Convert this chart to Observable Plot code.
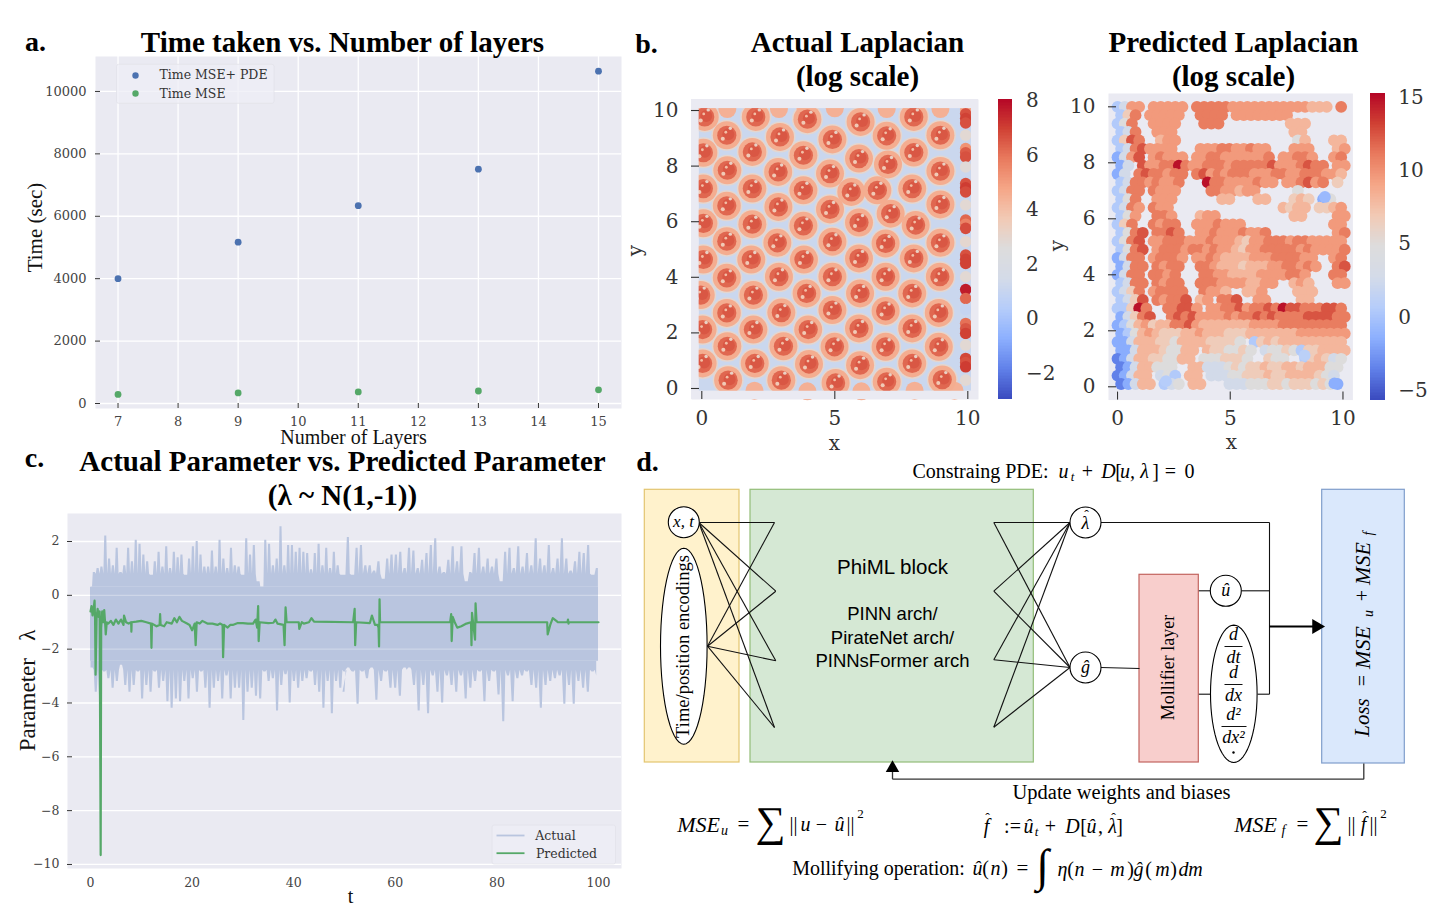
<!DOCTYPE html>
<html><head><meta charset="utf-8">
<script src="https://cdn.jsdelivr.net/npm/d3@7"></script>
<script src="https://cdn.jsdelivr.net/npm/@observablehq/plot@0.6"></script>
<style>html,body{margin:0;padding:0;background:#fff;width:1440px;height:914px;overflow:hidden}
#page{position:relative;width:1440px;height:914px}
#page>div{position:absolute}#page svg{max-width:none;display:block}</style>
</head><body><div id="page"></div>
<script>
// ---------- panel a ----------
const layers=[7,9,11,13,15];
const timePDE=[4000,5170,6340,7510,10650];
const timeMSE=[290,340,370,400,440];
// ---------- panel b: actual Laplacian, ring centres ----------
const ringX=[.11,2.03,3.97,5.97,7.97, .94,2.94,4.91,6.95,8.97, .06,1.9,3.82,5.91,7.97, .96,2.87,4.82,7,8.97,
 .06,1.9,3.82,5.62,6.6,7.91, .94,2.88,4.82,7.1,8.97, .06,1.9,3.82,5.91,8.04, .94,2.84,4.91,6.91,8.97,
 .06,1.86,3.84,5.91,7.97, .94,2.9,4.91,6.91,8.95, -.04,1.94,3.94,5.95,7.91, .94,2.99,4.91,6.91,8.91,
 .03,1.94,4,5.91,7.91, .96,3.07,4.99,6.91,8.91, .03,1.99,4.03,5.95,7.91, .99,2.99,5.03,6.95,9.04];
const ringY=[9.77,9.77,9.69,9.59,9.77, 9.11,9.05,8.96,9.09,9.11, 8.48,8.51,8.39,8.27,8.49, 7.85,7.79,7.73,8.06,7.82,
 7.19,7.19,7.13,7.07,7.13,7.19, 6.57,6.53,6.44,6.29,6.62, 5.94,5.91,5.85,5.97,5.88, 5.3,5.24,5.28,5.22,5.24,
 4.64,4.64,4.64,4.68,4.68, 3.98,4.02,4.02,4.02,4.02, 3.36,3.36,3.42,3.42,3.42, 2.72,2.73,2.82,2.79,2.72,
 2.12,2.12,2.12,2.16,2.16, 1.52,1.52,1.5,1.5,1.5, .9,.9,.88,.84,.9, .3,.3,.2,.24,.32];
const edgeX=[.96,2.9,3.9,5,6.95,8.97,1.98,3.97,6,8,9.5];
const edgeY=[10.05,10.05,10.05,10.08,10.05,10.05,-.08,-.1,-.1,-.08,-.08];
const columnX=9.92;
const columnY=[10.02,9.88,9.71,9.55,9.11,8.63,8.48,8.33,7.97,7.37,7.22,7.07,6.6,6.06,5.91,5.76,5.28,4.8,4.65,4.5,4.02,3.56,3.24,2.84,2.34,2.15,1.98,1.56,1.08,.93,.78,.3];
const columnV=[4.6,6.6,6.9,6.6,2.8,5.2,6.4,6.6,2.7,6.6,7,6.7,2.8,6.2,5.6,6.7,2.9,6.6,6.9,6.9,2.8,7.6,6.2,.9,6,6.5,6.9,2.8,6.8,6.6,7,2.8];
// ---------- panel b: predicted Laplacian, colour levels read row by row from y=10 downward ----------
const predictedLevels={"0":-3.6,"1":-1.6,"2":.4,"3":2.6,"4":4.8,"5":6.6,"6":8,"7":9.5,"8":10.9,"9":12.4,"x":14.8};
const predictedRows=[
"2377.77777.8888877777777777666.8",
"258.77777..8888.77777777........",
"248..7777...888.........666.....",
"238..777................66......",
"2598..677................46...66",
"23897777...7778877877...777...67",
"1379.78777.77887777778.77887..78",
"13.97788x87788878888897778988.77",
"13.8988788.897878887778877888776",
"238878778...x887777877.778978.5.",
"2388.8777....8877677.....4......",
"248..777......66...66...565.14..",
"2387.877...............6566.5567",
"247..887...677..........66....77",
"258..8788..7778777............77",
"2489.8898..7787778778.........78",
"2489.778887778777657788878877777",
"2489.788878878776577888887877778",
"1388.78887.77876666777888877..78",
"1388.8788..88766656667788787..89",
"1388.8878...887766667777887...88",
"2388.8788..88877776677..676...77",
"2358.78888..8776..667....666....",
"2359.87889.67.889..77....66.....",
"225x8..88997.7788978898x99888998",
"13589..8989777787889898888999988",
"12467566889766666667777888888888",
"12467655566766655566666667777777",
"113666554666655554.2565666666666",
"11366654466.6554454.344542556666",
"01366554466.4445554..544..256534",
"01366444..663334545565566566644.",
"01366.342.66.333445556556666543.",
"01366.234.66...3334445545554541."
];
const predictedOutliers=[[9.2,6.78,-.8],[8.3,1.12,1],[9.62,.12,-1.5],[2.15,.2,.6]];
// ---------- panel c: actual parameter peaks and predicted curve ----------
const upperEarly=[.25,.85,1,1.05,2.2,1.35,1.1,1.75,.85,1.1,1.75,1.25,2.05,1.9,1.5,1.25,.75,1.25,1.6,1.05,1.8,1,1.6,1.4,1.5,.75,1.35,1.8,2,1.5,1.05,1.05,1.65,1.05,2.05,1.35,1,1.75,1.1,1.05,.75,2.1,1.5,1.85,.5,.25,2.05,1.9,1.1,1.35,2.55,1.1,1.85,1.85,1.6,1.75,1.6,1.55,.95,1.55,1.9,1.1,1.75,1,1.6,1.1,.75];
const upperLate=[.75,2.15,.75,1.75,1.85,1.1,1.1,.9,1.25,.6,1.35,1.5,1.5,1.6,1,1.75,1.65,1,1.3,1.55,1.85,2.1,1.05,.85,1.3,1.8,1.25,1.8,.5,.85,1.55,1.75,1.05,1.35,1.05,1.35,.5,1.6,1.75,1,1.8,1.05,1.55,1.1,2.1,1.35,1.1,1.85,1,1.35,2.1,1.35,.9,1.25,1.6,1.55,1.85,.75,1];
const lowerEarly=[-2.7,-3.6,-3.7,-2.85,-3.1,-3.45,-3.2,-2.6,-3.35,-3.6,-3.35,-2.85,-3.85,-3.35,-3.6,-2.85,-3.45,-3.2,-3.95,-4.2,-3.85,-3.95,-3.2,-3.85,-3.1,-3.6,-2.85,-3.45,-4.2,-3.45,-3.2,-3.85,-3,-3.85,-3.45,-3.45,-4.65,-3.6,-3.45,-3.75,-3.85,-2.85,-3.2,-3.1,-4.3,-3.35,-2.95,-4,-3.2,-3.45,-3.2,-3.1,-2.85,-3.35,-3.6,-4.2,-3.2,-4.4,-3.2,-3.45,-2.85];
const lowerLate=[-3.6,-2.7,-2.85,-4.05,-2.85,-3.1,-2.7,-3.9,-3.2,-2.85,-3.45,-3.45,-3.75,-2.7,-2.7,-3.35,-4.3,-3.35,-4.4,-3,-3.6,-4,-3,-3.35,-3.6,-3,-3.85,-3.45,-3.2,-2.85,-3.95,-3.2,-2.85,-3.7,-4.7,-3,-3.95,-3.1,-3,-2.85,-3.35,-3.45,-4.2,-3.35,-3.2,-3.1,-3,-4.05,-3.35,-4.05,-3.2,-3.45,-3.6,-2.85,-3];
const bandLow=-2.45, bandHigh=.3, shoulderHigh=.78, shoulderLow=-2.78;
const predictedT=[0,.2,.4,.6,.8,.9,1,1.2,1.4,1.6,1.8,2,2.1,2.3,2.5,2.7,2.9,3,3.2,3.5,4,4.5,5,5.5,6,6.5,6.6,7,7.5,8,8.05,8.1,9,10,11,11.9,12,12.1,13,13.6,13.7,13.8,14.5,15,16,16.5,17,17.5,18,19,19.5,20,20.5,20.7,20.9,21.5,22,23,24,25,25.5,26,26.1,26.3,27,27.5,28,29,30,31,32,32.5,32.8,33,33.1,33.3,35,36,36.4,36.8,38,38.2,38.4,38.6,40,41,41.1,41.6,42,43,43.5,44,51.7,52,52.1,52.3,55,55.4,56,56.5,56.7,56.8,56.9,57,70.8,71,71.1,71.3,71.7,72.2,73,74,74.9,75,75.1,75.3,75.7,75.8,76,89.9,90,90.5,91,91.7,92,93.9,94,94.1,94.2,100];
const predictedV=[-.6,-.4,-.75,-.5,-.2,-.9,-2.95,-.8,-.5,-.8,-.6,-9.65,-1.2,-.6,-1,-.55,-1.1,-1.45,-1,-1.05,-.95,-1.1,-.9,-1.05,-.9,-1.1,-.75,-1,-1.05,-1,-1.35,-1,-.98,-.95,-1,-1.05,-1.95,-1.05,-1.15,-1.1,-.7,-1.1,-1.15,-1,-1.05,-.85,-1,-.8,-.95,-1.05,-1.1,-1.3,-1.05,-1.85,-1,-1.05,-.95,-1.05,-1.05,-1.1,-1.05,-1.1,-2.3,-1.1,-1.2,-1.1,-1.1,-1.03,-1.03,-1.05,-1.05,-.9,-1.2,-.4,-1.7,-1,-1.03,-1.02,-.9,-1.05,-1.1,-1.85,-.45,-1,-1,-1,-1.25,-1,-1.05,-1,-.85,-.98,-1,-.5,-1.85,-1,-1.03,-.75,-1.1,-1.1,-1.2,-1.9,-.15,-1,-1,-.7,-1.7,-.8,-1,-1.2,-1.15,-1.05,-1,-1.85,-.65,-1,-1.65,-.3,-1,-1,-1.45,-1.1,-.85,-.95,-1,-1,-.9,-1.05,-1,-1];
// ---------- shared ----------
const coolwarm=["#3b4cc0","#6282ea","#8db0fe","#b6cdfa","#d4dbe8","#dddcdc","#f2c9b4","#f5a586","#e8795d","#cf3f33","#b40426"];
const BG="#eaeaf2", GRIDW=1.3, TICK="#333", SERIF="'DejaVu Serif'", TIMES="'Liberation Serif'", SANS="'Liberation Sans'";
const page=document.getElementById("page");
function place(svg,left,top,z){const d=document.createElement("div");d.style.left=left+"px";d.style.top=top+"px";d.style.zIndex=z||1;d.appendChild(svg);page.appendChild(d);}
function colorScale(dom){return {type:"linear",clamp:true,domain:coolwarm.map((c,i)=>dom[0]+i*(dom[1]-dom[0])/10),range:coolwarm,legend:false};}
function panel(f,xd,yd,marks,extra){
  const m=Object.assign({L:60,R:5,T:5,B:50},extra&&extra.m);
  const W=f.x2-f.x1,H=f.y2-f.y1;
  const svg=Plot.plot(Object.assign({width:W+m.L+m.R,height:H+m.T+m.B,marginLeft:m.L,marginRight:m.R,marginTop:m.T,marginBottom:m.B,
    style:{background:"transparent",overflow:"visible"},x:{domain:xd},y:{domain:yd},marks:marks(W,H)},extra&&extra.plot));
  place(svg,f.x1-m.L,f.y1-m.T);
}
// ---------- panel a ----------
const frameA={x1:95,x2:621,y1:56,y2:408};
const xTicksA=d3.range(7,16), yTicksA=[0,2000,4000,6000,8000,10000];
panel(frameA,[6.625,15.383],[-160,11120],(W,H)=>[
  Plot.frame({fill:BG,stroke:null}),
  Plot.gridX(xTicksA,{stroke:"#fff",strokeOpacity:1,strokeWidth:GRIDW}),
  Plot.gridY(yTicksA,{stroke:"#fff",strokeOpacity:1,strokeWidth:GRIDW}),
  Plot.ruleX(xTicksA,{x:d=>d,stroke:TICK,insetTop:H-5}),
  Plot.ruleY(yTicksA,{y:d=>d,stroke:TICK,insetRight:W-5}),
  Plot.axisX(xTicksA,{tickSize:0,tickPadding:8,label:null,fontSize:13,fontFamily:SERIF,fill:"#444",tickFormat:"d"}),
  Plot.axisY(yTicksA,{tickSize:0,tickPadding:9,label:null,fontSize:13,fontFamily:SERIF,fill:"#444",tickFormat:"d"}),
  Plot.dot(layers,{x:d=>d,y:(d,i)=>timePDE[i],r:3.4,fill:"#4c72b0"}),
  Plot.dot(layers,{x:d=>d,y:(d,i)=>timeMSE[i],r:3.4,fill:"#55a868"})
],{m:{L:60,R:5,T:5,B:40}});
// ---------- panel b actual ----------
const domA=[-2.95,8.05];
const frameB={x1:690.7,x2:977.7,y1:99.3,y2:399.3};
const rings=ringX.map((x,i)=>({x,y:ringY[i]}));
const edges=edgeX.map((x,i)=>({x,y:edgeY[i]}));
const column=columnY.map((y,i)=>({x:columnX,y,v:columnV[i]}));
const scatterBox={x1:-.1,x2:10.14,y1:-.1,y2:10.07}, xdB=[-.387,10.402], ydB=[-.396,10.396];
const maskB=[[xdB[0],scatterBox.x1,ydB[0],ydB[1]],[scatterBox.x2,xdB[1],ydB[0],ydB[1]],[xdB[0],xdB[1],ydB[0],scatterBox.y1],[xdB[0],xdB[1],scatterBox.y2,ydB[1]]];
const ticks5=[0,5,10], ticks2=[0,2,4,6,8,10];
function tickMarks(W,H,len){return [
  Plot.ruleX(ticks5,{x:d=>d,stroke:TICK,strokeWidth:1.1,insetTop:H-len}),
  Plot.ruleY(ticks2,{y:d=>d,stroke:TICK,strokeWidth:1.1,insetRight:W-len}),
  Plot.axisX(ticks5,{tickSize:0,tickPadding:11,label:null,fontSize:20,fontFamily:SERIF,fill:"#333"}),
  Plot.axisY(ticks2,{tickSize:0,tickPadding:13,label:null,fontSize:20,fontFamily:SERIF,fill:"#333"})];}
panel(frameB,xdB,ydB,(W,H)=>[
  Plot.frame({fill:BG,stroke:null}),
  Plot.rect([scatterBox],{x1:"x1",x2:"x2",y1:"y1",y2:"y2",fill:()=>1.1}),
  Plot.dot(rings,{x:"x",y:"y",r:15.5,fill:()=>2.9}),
  Plot.dot(edges,{x:"x",y:"y",r:9,fill:()=>4.4}),
  Plot.dot(rings,{x:"x",y:"y",r:14,fill:()=>4.5}),
  Plot.dot(rings,{x:"x",y:"y",r:9.6,fill:()=>6.2}),
  Plot.dot(rings,{x:"x",y:"y",r:6,dx:1.5,dy:-1,fill:()=>6.5}),
  Plot.dot(rings,{x:"x",y:"y",r:2,dx:-4,dy:3.5,fill:()=>3.6}),
  Plot.dot(rings,{x:"x",y:"y",r:1.7,dx:3.5,dy:-7,fill:()=>3.2}),
  Plot.dot(rings,{x:"x",y:"y",r:1.4,dx:-1,dy:-3,fill:()=>4}),
  Plot.dot(column,{x:"x",y:"y",r:5.8,fill:"v"}),
  Plot.rect(maskB,{x1:d=>d[0],x2:d=>d[1],y1:d=>d[2],y2:d=>d[3],fill:BG}),
  Plot.rect([[xdB[0]-1,xdB[0],ydB[0],ydB[1]]],{x1:d=>d[0],x2:d=>d[1],y1:d=>d[2],y2:d=>d[3],fill:"#fff"}),
  ...tickMarks(W,H,8)
],{plot:{color:colorScale(domA)}});
function colorbar(f,dom,ticks,pad){
  const step=(dom[1]-dom[0])/200, cells=d3.range(dom[0],dom[1],step);
  panel(f,[0,1],dom,()=>[
    Plot.rect(cells,{x1:()=>0,x2:()=>1,y1:d=>d,y2:d=>d+step*1.2,fill:d=>d,shapeRendering:"crispEdges"}),
    Plot.axisX([],{}),
    Plot.axisY(ticks,{anchor:"right",tickSize:0,tickPadding:pad,label:null,fontSize:20,fontFamily:SERIF,fill:"#333"})
  ],{m:{L:1,R:50,T:5,B:5},plot:{color:colorScale(dom)}});
}
colorbar({x1:998.3,x2:1012.7,y1:99.3,y2:399.3},domA,[-2,0,2,4,6,8],13);
// ---------- panel b predicted ----------
const domP=[-5.65,15.25];
const frameP={x1:1108.3,x2:1352.7,y1:92.7,y2:399.3};
const predicted=[];
predictedRows.forEach((row,i)=>{[...row].forEach((ch,c)=>{if(ch!==".")predicted.push({x:c*.32+(i%2?.16:0),y:10-i*.3,v:predictedLevels[ch]});});});
predictedOutliers.forEach(p=>predicted.push({x:p[0],y:p[1],v:p[2]}));
panel(frameP,[-.4,10.44],[-.475,10.475],(W,H)=>[
  Plot.frame({fill:BG,stroke:null}),
  Plot.dot(predicted,{x:"x",y:"y",r:5.9,fill:"v"}),
  ...tickMarks(W,H,8)
],{plot:{color:colorScale(domP)}});
colorbar({x1:1370,x2:1384.7,y1:92.7,y2:399.3},domP,[-5,0,5,10,15],13);
// ---------- panel c ----------
const frameC={x1:67,x2:621,y1:513,y2:868};
const yTicksC=[2,0,-2,-4,-6,-8,-10], xTicksC=[0,20,40,60,80,100];
const uppers=[...upperEarly.map((v,i)=>({t:i*.75,v})),...upperLate.map((v,i)=>({t:49.9+i*.86,v}))];
const lowers=[...lowerEarly.map((v,i)=>({t:.3+i*.83,v})),...lowerLate.map((v,i)=>({t:49.9+i*.925,v}))];
const upperProfile=uppers.flatMap(p=>[{t:p.t-.2,v:p.v},{t:p.t+.2,v:p.v},{t:p.t+.38,v:Math.min(shoulderHigh,p.v)}]).filter(p=>p.t>=0&&p.t<=100);
const lowerProfile=lowers.flatMap(p=>[{t:p.t-.2,v:p.v},{t:p.t+.2,v:p.v},{t:p.t+.42,v:shoulderLow}]).filter(p=>p.t>=0&&p.t<=100);
const predictedSeries=predictedT.map((t,i)=>({t,v:predictedV[i]}));
const ACT="#b9c5df";
panel(frameC,[-4.53,104.53],[-10.15,3.04],(W,H)=>[
  Plot.frame({fill:BG,stroke:null}),
  Plot.gridY(yTicksC,{stroke:"#fff",strokeOpacity:1,strokeWidth:GRIDW}),
  Plot.rect([{a:0,b:100,c:bandLow,d:bandHigh}],{x1:"a",x2:"b",y1:"c",y2:"d",fill:ACT}),
  Plot.areaY(upperProfile,{x:"t",y1:()=>bandHigh,y2:"v",fill:ACT}),
  Plot.areaY(lowerProfile,{x:"t",y1:()=>bandLow,y2:"v",fill:ACT}),
  Plot.gridY([0,-2],{stroke:"#fff",strokeOpacity:.3,strokeWidth:GRIDW}),
  Plot.ruleY(yTicksC,{y:d=>d,stroke:TICK,insetRight:W-5}),
  Plot.line(predictedSeries,{x:"t",y:"v",stroke:"#55a868",strokeWidth:2.2,curve:"linear"}),
  Plot.axisX(xTicksC,{tickSize:0,tickPadding:10,label:null,fontSize:12.5,fontFamily:SERIF,fill:"#444"}),
  Plot.axisY(yTicksC,{tickSize:0,tickPadding:8,label:null,fontSize:12.5,fontFamily:SERIF,fill:"#444"})
],{m:{L:50,R:5,T:5,B:40}});
// ---------- overlay: titles, legends, diagram d ----------
const T=(x,y,t,s,r)=>({x,y,t,s,r:r||0});
const boldText=[T(35,42,"a.",28),T(646,44,"b.",28),T(34,458,"c.",28),T(647,462,"d.",28),
 T(342,42,"Time taken vs. Number of layers",29),T(857,42,"Actual Laplacian",29),T(857,76,"(log scale)",29),
 T(1233,42,"Predicted Laplacian",29),T(1233,76,"(log scale)",29),
 T(342,461,"Actual Parameter vs. Predicted Parameter",29),T(342,495,"(λ ~ N(1,-1))",29)];
const axisTitles=[T(353,437,"Number of Layers",20),T(35,227,"Time (sec)",21,-90),T(350,896,"t",20),T(27,690,"Parameter   λ",23,-90)];
const serifAxis=[T(635,250,"y",20,-90),T(834,443,"x",20),T(1057,245,"y",20,-90),T(1231,442,"x",20)];
const legendText=[T(213,74,"Time MSE+ PDE",12.5),T(192,93,"Time MSE",12.5),T(555,835,"Actual",12.5),T(566,853,"Predicted",12.5)];
const mathUpright=[T(980,471,"Constraing PDE:",20),T(1087,471,"+",20),T(1118,471,"[",20),T(1155,471,"]",20),T(1170,471,"=",20),T(1189,471,"0",20),
 T(1121,792,"Update weights and biases",20.5),
 T(743,824,"=",21),T(770,822,"∑",42),T(793,824,"||",20),T(821,824,"−",20),T(850,824,"||",20),T(860,813,"2",13),
 T(1012,826,":=",20),T(1050,826,"+",20),T(1083,826,"[",20),T(1100,826,",",20),T(1119,826,"]",20),
 T(1302,824,"=",21),T(1328,822,"∑",42),T(1351,824,"||",20),T(1373,824,"||",20),T(1383,813,"2",13),
 T(878,868,"Mollifying operation:",20),T(985,868,"(",20),T(1004,868,")",20),T(1022,868,"=",21),T(1070,869,"(",20),T(1097,869,"−",20),T(1130,869,")",20),T(1148,869,"(",20),T(1173,869,")",20),
 T(683,646,"Time/position encodings",18.5,-90),T(1168,667,"Mollifier layer",18,-90),T(1362,680,"=",20,-90),T(1362,595,"+",20,-90),
 T(1086,515,"ˆ",14),T(1113,818,"ˆ",14),T(987,818,"ˆ",14),T(1364,816,"ˆ",14)];
const mathItalic=[T(1063,471,"u",20),T(1072,476,"t",13),T(1108,471,"D",20),T(1127,471,"u,",20),T(1144,471,"λ",20),
 T(698,824,"MSE",22),T(724,830,"u",14),T(805,824,"u",20),T(839,824,"û",20),
 T(986,826,"f",20),T(1028,826,"û",20),T(1036,831,"t",13),T(1072,826,"D",20),T(1091,826,"û",20),T(1112,826,"λ",20),
 T(1255,824,"MSE",22),T(1283,830,"f",14),T(1363,824,"f",20),
 T(977,868,"û",20),T(995,868,"n",20),T(1042,866,"∫",46),T(1062,869,"η",20),T(1079,869,"n",20),T(1117,869,"m",20),T(1138,869,"ĝ",20),T(1162,869,"m",20),T(1183,869,"d",20),T(1195,869,"m",20),
 T(683,521,"x, t",17),T(1085,523,"λ",18),T(1225.3,590,"û",18),T(1085,667,"ĝ",18),
 T(1233,634,"d",18),T(1233,657,"dt",18),T(1233,672,"d",18),T(1233,695,"dx",18),T(1233,714,"d²",18),T(1233,737,"dx²",18),
 T(1362,717,"Loss",21,-90),T(1362,647,"MSE",22,-90),T(1368,613,"u",14,-90),T(1362,563,"MSE",22,-90),T(1368,533,"f",14,-90)];
const sansText=[T(892,567,"PhiML block",20.5),T(892,614,"PINN arch/",18.5),T(892,638,"PirateNet arch/",18.5),T(892,661,"PINNsFormer arch",18.5)];
const boxes=[{x1:644.3,x2:739,y1:489.3,y2:762,f:"#fff2cc",s:"#e3c56f"},{x1:750,x2:1033.3,y1:489.3,y2:762,f:"#d5e8d4",s:"#93bd78"},
 {x1:1139,x2:1198.3,y1:574.3,y2:762,f:"#f8cecc",s:"#c2645f"},{x1:1321.7,x2:1404.3,y1:489.3,y2:763,f:"#dae8fc",s:"#7f9dcb"}];
const legendBoxes=[{x1:116.5,x2:274,y1:64.3,y2:103.3},{x1:492,x2:615.5,y1:825,y2:864}];
const leftNodes=[[698.3,522],[707,645.7]], blockIn=[[774,522],[775.3,590.7],[775.3,660.3],[774,727]];
const blockOut=[[993.3,522],[993.3,590.7],[993.3,659.3],[993.3,726.7]], rightNodes=[[1069.5,522],[1069.5,667]];
const wires=[];
leftNodes.forEach(a=>blockIn.forEach(b=>wires.push([a[0],a[1],b[0],b[1]])));
rightNodes.forEach(a=>blockOut.forEach(b=>wires.push([b[0],b[1],a[0],a[1]])));
wires.push([1100.5,522,1269,522],[1269,522,1269,693.7],[1257,693.7,1269,693.7],[1100.5,667,1139,668],
 [1198.3,590.3,1210,590.3],[1241,590.3,1269,590.3],[1198.3,693.7,1210,693.7]);
const fractionRules=[[1224,646,1242,646],[1224,684,1242,684],[1221,726,1246,726]];
const feedback=[[1363.3,763,1363.3,778.7],[1363.3,778.7,892,778.7],[892,778.7,892,768]];
const circles=[[683.3,521.7],[1085,522],[1085,667],[1225.3,590.3]];
const ellipses=[{cx:683.3,cy:645.7,rx:23.3,ry:98},{cx:1233.3,cy:693.3,rx:23.3,ry:68.7}];
const ellipsePts=e=>d3.range(0,361,6).map(a=>({x:e.cx+e.rx*Math.cos(a*Math.PI/180),y:e.cy+e.ry*Math.sin(a*Math.PI/180)}));
const segs=(data,stroke,w)=>Plot.link(data,{x1:d=>d[0],y1:d=>d[1],x2:d=>d[2],y2:d=>d[3],stroke,strokeWidth:w});
const txt=(data,opts)=>Plot.text(data,Object.assign({x:"x",y:"y",text:"t",fontSize:d=>d.s,rotate:d=>d.r,fill:"#000",lineAnchor:"middle",textAnchor:"middle"},opts));
const overlay=Plot.plot({width:1440,height:914,margin:0,axis:null,style:{background:"transparent"},
  x:{domain:[0,1440],range:[0,1440]},y:{domain:[0,914],range:[0,914]},marks:[
  Plot.rect(legendBoxes,{x1:"x1",x2:"x2",y1:"y1",y2:"y2",fill:"#eeeef5",fillOpacity:.75,stroke:"#e2e2ea",strokeWidth:.8,rx:2}),
  segs([[496,835,524,835]],ACT,1.8),
  segs([[496,852.7,524,852.7]],"#55a868",1.8),
  Plot.dot([[135,75]],{x:d=>d[0],y:d=>d[1],r:3.2,fill:"#4c72b0"}),
  Plot.dot([[135,93]],{x:d=>d[0],y:d=>d[1],r:3.2,fill:"#55a868"}),
  Plot.rect(boxes,{x1:"x1",x2:"x2",y1:"y1",y2:"y2",fill:"f",stroke:"s",strokeWidth:1.2}),
  segs(wires,"#111",1.1),
  segs(feedback,"#333",1.3),
  segs([[1269,626,1316,626]],"#000",1.8),
  Plot.dot([[1316,626]],{x:d=>d[0],y:d=>d[1],symbol:"triangle",r:5.5,fill:"#000",stroke:null,rotate:90}),
  Plot.dot([[892,767.5]],{x:d=>d[0],y:d=>d[1],symbol:"triangle",r:5,fill:"#000",stroke:null}),
  ...ellipses.map(e=>Plot.line(ellipsePts(e),{x:"x",y:"y",fill:"#fff",stroke:"#000",strokeWidth:1.1})),
  segs(fractionRules,"#111",1),
  Plot.dot([[1233,752]],{x:d=>d[0],y:d=>d[1],r:1.2,fill:"#000"}),
  Plot.dot(circles,{x:d=>d[0],y:d=>d[1],r:15.5,fill:"#fff",stroke:"#000",strokeWidth:1.1}),
  txt(boldText,{fontFamily:TIMES,fontWeight:"bold"}),
  txt(axisTitles,{fontFamily:TIMES,fill:"#111"}),
  txt(serifAxis,{fontFamily:SERIF,fill:"#333"}),
  txt(legendText,{fontFamily:SERIF,fill:"#333"}),
  txt(mathUpright,{fontFamily:TIMES}),
  txt(mathItalic,{fontFamily:TIMES,fontStyle:"italic"}),
  txt(sansText,{fontFamily:SANS})
]});
place(overlay,0,0,5);
</script></body></html>
